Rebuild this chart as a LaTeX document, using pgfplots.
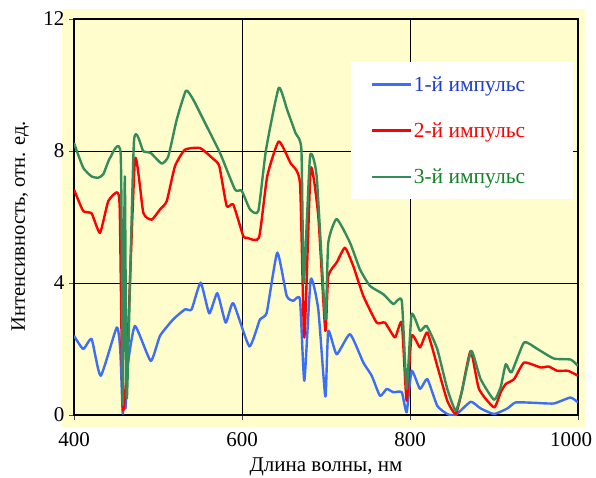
\documentclass[border=0pt]{standalone}
\usepackage{pgfplots}
\pgfplotsset{compat=1.18}
\usepackage{fontspec}
\setmainfont{Liberation Serif}
\definecolor{cblue}{RGB}{61,110,247}
\definecolor{cred}{RGB}{255,0,0}
\definecolor{cgreen}{RGB}{51,140,90}
\definecolor{tblue}{RGB}{30,60,205}
\definecolor{tgreen}{RGB}{20,130,40}
\definecolor{bgyellow}{RGB}{255,253,204}
\begin{document}
\begin{tikzpicture}
\path[use as bounding box] (0pt,0pt) rectangle (596pt,477pt);
\fill[bgyellow] (62pt,50pt) rectangle (585pt,468pt);
\begin{axis}[
  scale only axis,
  width=504pt, height=396pt,
  at={(74pt,62pt)}, anchor=south west,
  xmin=400, xmax=1000, ymin=0, ymax=12,
  xtick={400,600,800,1000}, ytick={0,4,8,12},
  xticklabels={400,600,800,\makebox[28pt][r]{1000}},
  tick pos=left, tick align=outside,
  major tick length=5pt,
  major tick style={black!70, line width=0.8pt},
  grid=major,
  major grid style={black, line width=0.8pt},
  axis line style={black, line width=1.6pt},
  /pgf/number format/assume math mode=true,
  /pgf/number format/1000 sep={},
  ticklabel style={font=\fontsize{21}{25}\selectfont},
  xticklabel style={yshift=-9pt},
  yticklabel style={xshift=-1pt},
  xlabel={Длина волны, нм},
  ylabel={Интенсивность, отн. ед.},
  every axis x label/.style={at={(axis description cs:0.5,-0.131)},anchor=center,font=\fontsize{21}{25}\selectfont},
  every axis y label/.style={at={(axis description cs:-0.107,0.477)},rotate=90,anchor=center,font=\fontsize{20.5}{24}\selectfont},
  legend style={draw=none, fill=white, at={(axis description cs:0.55,0.891)}, anchor=north west,
    inner xsep=19pt, inner ysep=12pt, row sep=26pt,
    font=\fontsize{21.5}{25}\selectfont},
  legend cell align=left,
  legend image code/.code={\draw[#1] (0pt,0pt) -- (39pt,0pt);},
  every axis plot/.append style={line width=2.4pt, smooth, tension=0.3, line join=round},
]
\addplot[cblue] coordinates {
(400,2.40)(411,2.0)(421,2.30)(431.8,1.19)(450.8,2.65)(455,2.0)(458,0.05)(459.5,0.6)(461.3,0.2)(464,1.5)
(472.6,2.70)(491.3,1.64)(502.4,2.40)(518.2,2.90)(532.1,3.20)(540,3.2)(550.8,4.01)(561,3.08)(570.6,3.69)
(580.6,2.80)(589.6,3.39)(608.7,2.08)(621.4,2.90)(629.4,3.10)(642,4.92)(653.2,3.61)(661.1,3.46)(669,3.5)
(674.2,1.04)(681.8,4.11)(690.8,3.2)(699.2,0.56)(702.7,2.55)(712.7,1.84)(728.6,2.45)(744.4,1.59)(754.4,1.19)
(764.3,0.58)(772.3,0.79)(780.2,0.69)(790.2,0.69)(796,0.08)(801.9,1.34)(811.9,0.79)(820.6,1.09)(832.4,0.28)
(844.4,0.03)(854.3,0)(872.2,0.40)(884,0.2)(900,0.03)(916,0.2)(925.6,0.38)(947.4,0.37)(971.2,0.35)(991,0.53)(1000,0.38)
};
\addlegendentry{\makebox[138pt][l]{\textcolor{tblue}{1-й импульс}}}
\addplot[cred] coordinates {
(400,6.83)(411,6.18)(421,6.11)(430.9,5.52)(440.8,6.48)(451.5,6.75)(454.5,6.2)(458,0.23)(462.7,1.39)
(472.6,7.74)(482.5,6.13)(492.5,5.92)(502.4,6.23)(510.4,6.48)(520.2,7.54)(532.1,8.04)(550,8.09)(565.8,7.76)
(573,7.54)(581.8,6.33)(589.6,6.38)(601.5,5.42)(606.2,5.37)(620.2,5.37)(630,7.23)(643.7,8.29)(657.6,7.64)
(669,7.03)(674.2,2.35)(681.8,7.46)(690.8,6.03)(699.2,2.55)(702.7,4.21)(712.7,4.62)(722.6,5.07)(732.5,4.51)
(744.4,3.61)(760.3,2.80)(770.2,2.8)(782.1,2.35)(790.2,2.8)(796,0.43)(801.9,2.40)(811.9,2.05)(820.6,2.50)
(832.4,1.49)(844.4,0.43)(854.3,0.03)(861.5,0.69)(872.2,1.94)(882.1,0.79)(900,0.23)(908,0.69)(914,0.94)
(924,1.09)(935.8,1.59)(955.6,1.44)(965,1.47)(975.4,1.34)(988,1.34)(1000,1.19)
};
\addlegendentry{\makebox[138pt][l]{\textcolor{cred}{2-й импульс}}}
\addplot[cgreen] coordinates {
(400,8.24)(411,7.49)(421,7.23)(428.9,7.19)(435,7.3)(442.9,7.79)(455.6,7.89)(458,0.3)(460.5,7.23)(462.9,0.5)
(471.4,8.29)(482.5,7.99)(491.3,7.94)(504.4,7.62)(512.3,7.84)(522.3,8.95)(533.3,9.83)(542.1,9.55)(554,8.95)
(573.8,7.94)(591.7,6.83)(599.6,6.8)(609.5,6.23)(619.4,6.18)(628.6,8.04)(643.7,9.91)(653.7,9.25)(663.6,8.55)
(670.7,8.04)(673.5,4.01)(681,7.84)(688.9,7.23)(699.2,2.90)(702.7,5.22)(712.7,5.94)(728.6,5.22)(740.5,4.41)
(752.4,3.91)(768.3,3.66)(780.2,3.36)(790.2,3.46)(796,0.79)(801.9,3.05)(811.9,2.55)(819.8,2.70)(832.4,2.0)
(844.4,0.79)(854.3,0.13)(861.5,0.69)(873,1.94)(884,1.09)(900,0.46)(908,0.85)(914,1.54)(920.8,1.29)
(935.8,2.20)(951.6,2.0)(971.4,1.71)(991.2,1.68)(1000,1.49)
};
\addlegendentry{\makebox[138pt][l]{\textcolor{tgreen}{3-й импульс}}}
\end{axis}
\end{tikzpicture}
\end{document}
